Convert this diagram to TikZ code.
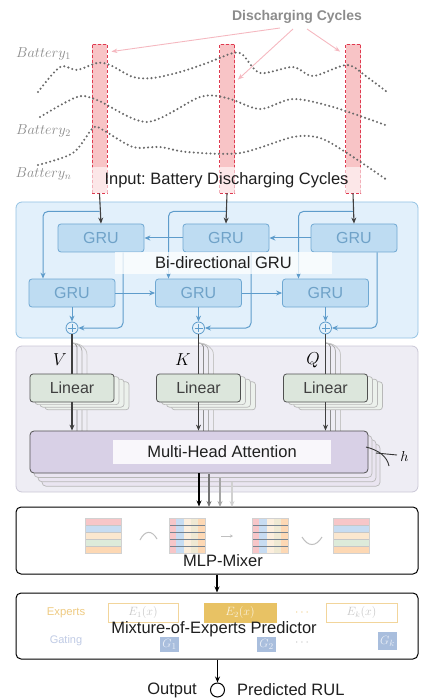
\documentclass[tikz,border=0pt]{standalone}
\usepackage{fontspec}
\setmainfont{Liberation Sans}
\frenchspacing
\usetikzlibrary{arrows.meta,calc}
\definecolor{barpink}{HTML}{F8C4C6}
\definecolor{barred}{HTML}{E03A50}
\definecolor{arrpink}{HTML}{F5B8C0}
\definecolor{dotgray}{HTML}{6A6A6A}
\definecolor{batgray}{HTML}{8A8A8A}
\definecolor{dcgray}{HTML}{8C8C8C}
\definecolor{gruouterfill}{HTML}{E2F0FB}
\definecolor{gruouterdraw}{HTML}{93C2E3}
\definecolor{grufill}{HTML}{BEDCF2}
\definecolor{grudraw}{HTML}{6FA8D2}
\definecolor{grutext}{HTML}{6FA2C8}
\definecolor{bluearrc}{HTML}{5E9CCB}
\definecolor{darkarr}{HTML}{404040}
\definecolor{attfill}{HTML}{EEEDF4}
\definecolor{attdraw}{HTML}{CAC7D6}
\definecolor{linfill}{HTML}{DCE6DC}
\definecolor{mhafill}{HTML}{D8D0E6}
\definecolor{boxdraw}{HTML}{505050}
\definecolor{expgold}{HTML}{EFCB82}
\definecolor{expfill}{HTML}{E8C264}
\definecolor{gatetext}{HTML}{C0CBE5}
\definecolor{gatefill}{HTML}{A9BEDD}
\definecolor{rpink}{HTML}{F7C6C8}
\definecolor{rblue}{HTML}{C7DCF2}
\definecolor{rcream}{HTML}{FBE7CF}
\definecolor{rgreen}{HTML}{DDEBDA}
\definecolor{rorange}{HTML}{FDD8B4}
\tikzset{
  lbl/.style={font=\fontsize{16.5}{19}\selectfont, text=black!88, inner sep=0},
  barbox/.style={draw=barred, dash pattern=on 3pt off 2pt, fill=barpink, line width=0.8, minimum width=15, minimum height=149, inner sep=0},
  pinkarr/.style={draw=arrpink, line width=0.9, -{Stealth[length=6pt,width=4.5pt]}},
  dotcurve/.style={draw=dotgray, line width=2.3, dash pattern=on 0pt off 4.2pt, line cap=round},
  batlbl/.style={text=batgray, font=\fontsize{14.5}{16}\selectfont, inner sep=0},
  gru/.style={draw=grudraw, fill=grufill, rounded corners=3, text=grutext, minimum width=86, minimum height=28, line width=0.8, font=\fontsize{16}{18}\selectfont, inner sep=0},
  bluearr/.style={draw=bluearrc, line width=1, -{Stealth[length=6pt,width=5pt]}},
  darkarrow/.style={draw=darkarr, line width=1.1, -{Stealth[length=6pt,width=5pt]}},
  darkl/.style={draw=darkarr, line width=1.1},
  plusc/.style={circle, draw=bluearrc, fill=grufill!40, minimum size=12, inner sep=0, line width=0.8,
    path picture={\draw[bluearrc, line width=0.6] ([yshift=-2pt]path picture bounding box.north) -- ([yshift=2pt]path picture bounding box.south) ([xshift=2pt]path picture bounding box.west) -- ([xshift=-2pt]path picture bounding box.east);}},
  linbox/.style={draw=boxdraw, fill=linfill, rounded corners=3, minimum width=84, minimum height=28, line width=0.8, font=\fontsize{16}{18}\selectfont, text=black!75, inner sep=0},
  linstack/.style={draw=black!28, fill=linfill!55!white, rounded corners=3, minimum width=84, minimum height=28, line width=0.7, inner sep=0},
  mhabox/.style={draw=boxdraw, fill=mhafill, rounded corners=4, minimum width=338, minimum height=42, line width=0.8, inner sep=0},
  mhastack/.style={draw=black!28, fill=mhafill!55!white, rounded corners=4, minimum width=338, minimum height=42, line width=0.7, inner sep=0},
  whitebox/.style={fill=white, fill opacity=0.75, text opacity=1, inner sep=0},
  stagebox/.style={draw=black, fill=white, rounded corners=5, line width=1, minimum width=402, inner sep=0},
  ebox/.style={draw=expgold!80, fill=white, minimum width=70, minimum height=19, line width=0.8, inner sep=0, text=black!22, font=\fontsize{12}{14}\selectfont},
  gbox/.style={fill=gatefill, minimum width=19, minimum height=15, inner sep=0, text=white!75!gatefill, font=\fontsize{13}{14}\selectfont}
}
\begin{document}
\begin{tikzpicture}[x=1pt,y=-1pt]
\useasboundingbox (0,0) rectangle (423,700);
% ---------- input section ----------
\node[barbox] (b1) at (99.5,118.5) {};
\node[barbox] (b2) at (227,118.5) {};
\node[barbox] (b3) at (353,118.5) {};
\draw[dotcurve] plot[smooth] coordinates {(38,92) (60,67) (77,70) (97,63) (110,65) (133,77) (153,78) (180,72) (207,63) (233,53) (243,55) (260,73) (293,67) (313,76) (347,65) (367,77) (387,92)};
\draw[dotcurve] plot[smooth] coordinates {(40,117) (77,97) (97,100) (147,122) (200,97) (227,98) (260,109) (293,99) (333,107) (388,126)};
\draw[dotcurve] plot[smooth] coordinates {(38,165) (73,153) (93,128) (103,130) (133,147) (160,147) (187,152) (240,153) (293,137) (320,138) (347,153) (387,180)};
\node[batlbl] (bat1) at (43.5,54) {$Battery_1$};
\node[batlbl] (bat2) at (43.5,131) {$Battery_2$};
\node[batlbl] (batn) at (43.5,174) {$Battery_n$};
\node[text=dcgray, font=\bfseries\fontsize{14}{16}\selectfont, inner sep=0] (dc) at (297,17) {Discharging Cycles};
\draw[pinkarr] ([shift={(-17,11)}]dc.center) -- ([shift={(4,8)}]b1.north east);
\draw[pinkarr] ([shift={(-4,12)}]dc.center) -- ([shift={(3,36)}]b2.north east);
\draw[pinkarr] ([shift={(10,12)}]dc.center) -- ([shift={(-5,8)}]b3.north west);
\node[lbl, fill=white, fill opacity=0.6, text opacity=1, minimum width=269, minimum height=26] (inlbl) at (226.5,180) {Input: Battery Discharging Cycles};
% ---------- GRU section ----------
\node[draw=gruouterdraw, fill=gruouterfill, rounded corners=6, line width=0.8, minimum width=402, minimum height=136, inner sep=0] (grubox) at (217,270) {};
\node[gru] (g1) at (101,238) {GRU};
\node[gru] (g2) at (226,238) {GRU};
\node[gru] (g3) at (354,238) {GRU};
\node[gru] (g4) at (72,293) {GRU};
\node[gru] (g5) at (198.5,293) {GRU};
\node[gru] (g6) at (325.5,293) {GRU};
\node[plusc] (p1) at (72,328) {};
\node[plusc] (p2) at (198.5,328) {};
\node[plusc] (p3) at (325.5,328) {};
\coordinate (s1) at ([yshift=-18pt]b1.south);
\coordinate (s2) at ([yshift=-18pt]b2.south);
\coordinate (s3) at ([yshift=-18pt]b3.south);
\draw[bluearr, rounded corners=5] (s1) -| ([xshift=-29pt]g4.north);
\draw[bluearr, rounded corners=5] (s2) -| ([xshift=-30pt]g5.north);
\draw[bluearr, rounded corners=5] (s3) -| ([xshift=-27pt]g6.north);
\draw[darkarrow] (b1.south) -- (g1.north);
\draw[darkarrow] (b2.south) -- (g2.north);
\draw[darkarrow] (b3.south) -- (g3.north);
\draw[bluearr] (g2.west) -- (g1.east);
\draw[bluearr] (g3.west) -- (g2.east);
\draw[bluearr] (g4.east) -- (g5.west);
\draw[bluearr] (g5.east) -- (g6.west);
\draw[bluearr, rounded corners=5] ([xshift=22pt]g1.south) |- (p1.east);
\draw[bluearr, rounded corners=5] ([xshift=25pt]g2.south) |- (p2.east);
\draw[bluearr, rounded corners=5] ([xshift=23pt]g3.south) |- (p3.east);
\draw[bluearr] (g4.south) -- (p1.north);
\draw[bluearr] (g5.south) -- (p2.north);
\draw[bluearr] (g6.south) -- (p3.north);
\node[lbl, whitebox, minimum width=217, minimum height=22] (bilbl) at (223.5,263) {Bi-directional GRU};
% ---------- attention section ----------
\node[draw=attdraw, fill=attfill, rounded corners=6, line width=0.8, minimum width=402, minimum height=146, inner sep=0] (attbox) at (217,419) {};
\foreach \px in {72,198.5,325.5}{
  \foreach \i/\cl in {1/45,2/32,3/22}{
    \draw[black!\cl, line width=0.8] ({\px},343) to[out=0,in=90] ({\px+5*\i},{343+4*\i}) -- ({\px+5*\i},{431+4.4*\i});
  }
}
\foreach \px/\nm in {72/a,198.5/b,325.5/c}{
  \foreach \i in {3,2,1}{
    \node[linstack] (ls\nm\i) at ({\px+5*\i},{388+2.6*\i}) {};
  }
}
\draw[darkl] (p1.south) -- (72,374);
\draw[darkl] (p2.south) -- (198.5,374);
\draw[darkl] (p3.south) -- (325.5,374);
\node[linbox] (l1) at (72,388) {Linear};
\node[linbox] (l2) at (198.5,388) {Linear};
\node[linbox] (l3) at (325.5,388) {Linear};
\node[font=\fontsize{16}{18}\selectfont, inner sep=0] (vl) at (60,360) {$V$};
\node[font=\fontsize{16}{18}\selectfont, inner sep=0] (kl) at (183,360) {$K$};
\node[font=\fontsize{16}{18}\selectfont, inner sep=0] (ql) at (313,360) {$Q$};
\foreach \i in {3,2,1}{
  \node[mhastack] (ms\i) at ({199+4*\i},{452+4.4*\i}) {};
}
\node[mhabox] (mha) at (199,452) {};
\draw[darkarrow] (l1.south) -- (l1.south |- mha.north);
\draw[darkarrow] (l2.south) -- (l2.south |- mha.north);
\draw[darkarrow] (l3.south) -- (l3.south |- mha.north);
\node[lbl, whitebox, fill opacity=0.85, minimum width=218, minimum height=24] (mhalbl) at (222,452) {Multi-Head Attention};
\draw[black!80, line width=0.9] (366,447) .. controls (378,450) and (387,456) .. (389,466);
\draw[black!80, line width=0.9] (376,453) -- (397,455);
\node[font=\fontsize{15}{17}\selectfont, inner sep=0] (hl) at (404.5,456) {$h$};
% ---------- MLP-Mixer ----------
\node[stagebox, minimum height=67] (mix) at (217,540.5) {};
\draw[darkarrow, draw=black] (mha.south) -- (mha.south |- mix.north);
\draw[darkarrow, draw=black!55] (209,474) -- (209,507);
\draw[darkarrow, draw=black!35] (220,478) -- (220,507);
\draw[darkarrow, draw=black!18] (232,482) -- (232,507);
\foreach \gx in {85,333}{
  \foreach \k/\c in {0/rpink,1/rblue,2/rcream,3/rgreen,4/rorange}{
    \fill[\c] ({\gx},{518+7*\k}) rectangle ({\gx+36},{525+7*\k});
  }
  \foreach \k in {1,2,3,4}{\draw[black!22, line width=0.5] ({\gx},{518+7*\k}) -- ({\gx+36},{518+7*\k});}
  \draw[black!18, line width=0.5] ({\gx},518) rectangle ({\gx+36},553);
}
\foreach \gx in {169,252}{
  \fill[rpink] ({\gx},518) rectangle ({\gx+7},553);
  \fill[rblue] ({\gx+7},518) rectangle ({\gx+15},553);
  \fill[rcream!70!white] ({\gx+15},518) rectangle ({\gx+22},553);
  \fill[rcream!60!rgreen] ({\gx+22},518) rectangle ({\gx+29},553);
  \fill[rorange] ({\gx+29},518) rectangle ({\gx+36},553);
  \foreach \k in {1,2,3,4}{\draw[black!40!rblue, line width=0.6] ({\gx},{518+7*\k}) -- ({\gx+36},{518+7*\k});}
  \draw[black!18, line width=0.5] ({\gx},518) rectangle ({\gx+36},553);
}
\draw[black!25, line width=1] (140,540) .. controls (145,530) and (152,530) .. (157,539);
\draw[black!25, line width=0.8, -{Stealth[length=3pt,width=3pt]}] (221,536) -- (233,536);
\draw[black!25, line width=1] (302,537) .. controls (308,547) and (316,547) .. (322,537);
\node[lbl] (mixlbl) at (223,561) {MLP-Mixer};
% ---------- MoE ----------
\node[stagebox, minimum height=66] (moe) at (217,626) {};
\draw[darkarrow, draw=black] (mix.south) -- (moe.north);
\node[text=expgold, font=\fontsize{11.3}{13}\selectfont, inner sep=0] (expl) at (66,613) {Experts};
\node[ebox] (e1) at (143,612.5) {$E_1(x)$};
\node[ebox, fill=expfill, draw=expfill, minimum width=72, text=white!80!expfill] (e2) at (240,612.5) {$E_2(x)$};
\node[text=expgold, font=\fontsize{12}{14}\selectfont, inner sep=0] (edots) at (302,613) {$\cdots$};
\node[ebox, minimum width=71] (ek) at (361.5,612.5) {$E_k(x)$};
\node[text=gatetext, font=\fontsize{11}{13}\selectfont, inner sep=0] (gatl) at (66,641) {Gating};
\node[gbox] (gg1) at (169.5,644) {$G_1$};
\node[gbox] (gg2) at (266.5,644) {$G_2$};
\node[text=black!25, font=\fontsize{12}{14}\selectfont, inner sep=0] (gdots) at (302,643) {$\cdots$};
\node[gbox, minimum height=18] (ggk) at (387.5,641) {$G_k$};
\node[lbl] (moelbl) at (214,629) {Mixture-of-Experts Predictor};
% ---------- output ----------
\node[circle, draw=black, line width=1, minimum size=14, inner sep=0] (outc) at (217.5,690) {};
\draw[darkarrow, draw=black] (outc.north |- moe.south) -- (outc.north);
\node[lbl, anchor=east] (outl) at (197,690) {Output};
\node[lbl, anchor=west] (rul) at (237,690) {Predicted RUL};
\end{tikzpicture}
\end{document}
